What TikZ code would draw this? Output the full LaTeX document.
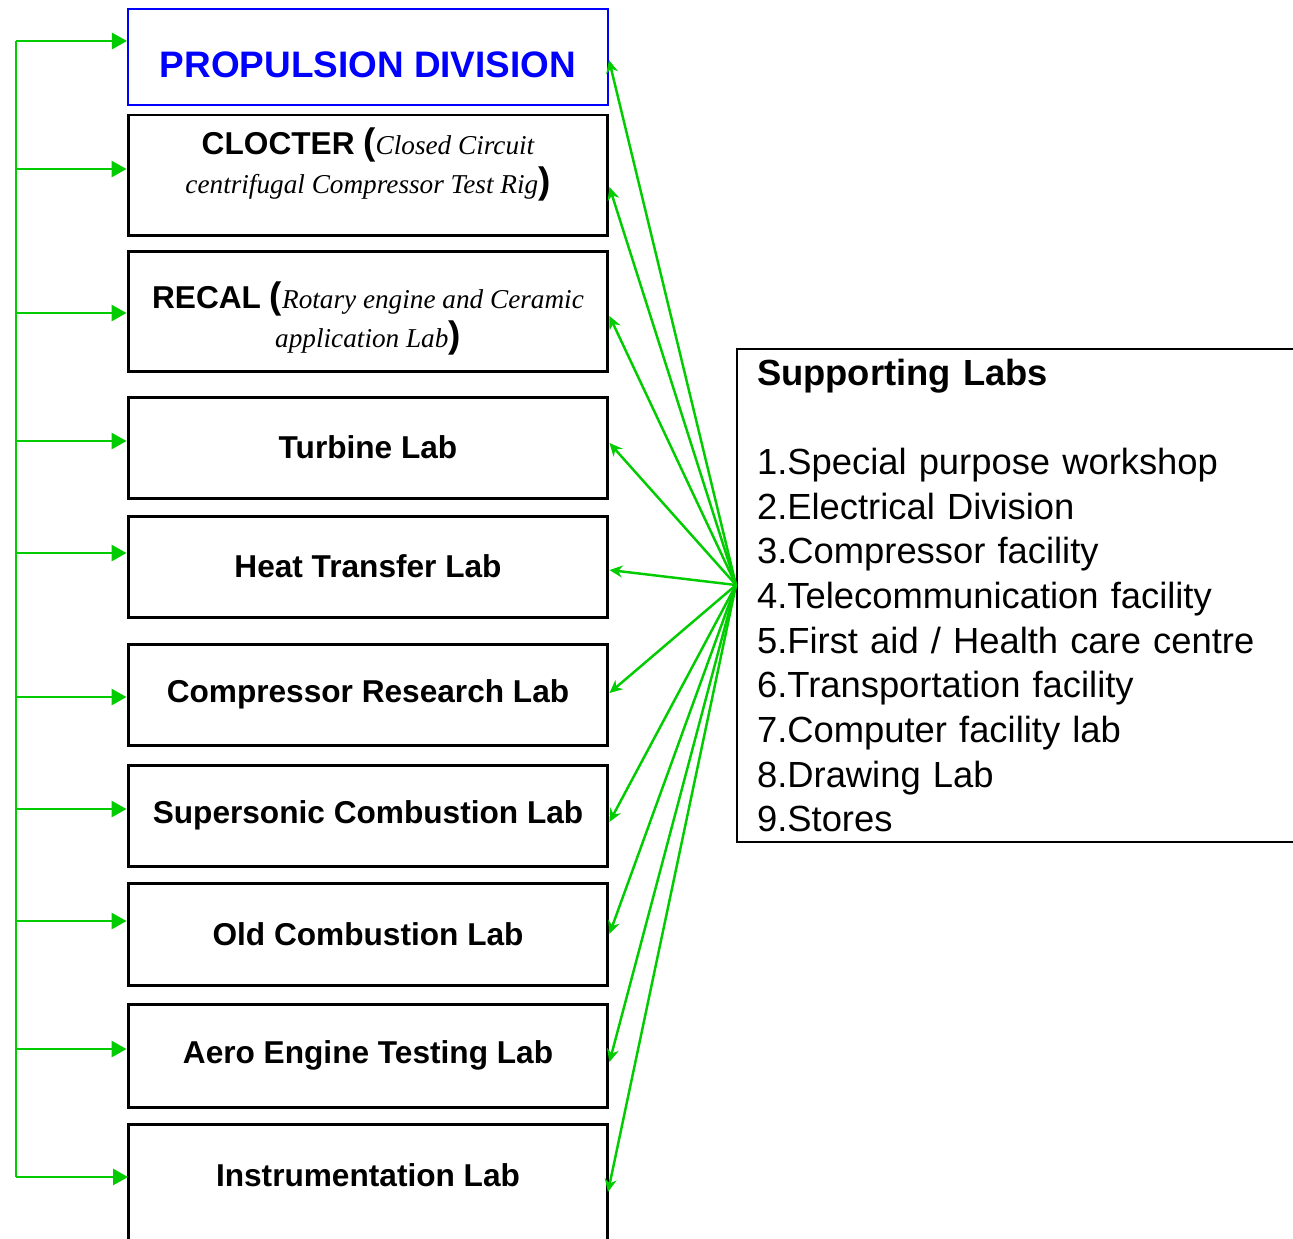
\documentclass[tikz,border=0pt]{standalone}
\usepackage{fontspec}
\setmainfont{Liberation Sans}
\newfontfamily\rigfont{Liberation Serif}
\usetikzlibrary{positioning,arrows.meta}
\definecolor{linkgreen}{RGB}{0,204,0}
\definecolor{headblue}{RGB}{0,0,255}
\tikzstyle{lab}=[draw,line width=1.7pt,minimum width=9.6cm,inner sep=0pt,align=center,
  font=\bfseries\fontsize{18}{22}\selectfont]
\tikzstyle{feed}=[-{Triangle[length=0.3cm,width=0.32cm]},linkgreen,line width=1.6pt]
\tikzstyle{link}=[-{Stealth[length=0.26cm,width=0.24cm]},linkgreen,line width=1.4pt]
\newcommand{\newLab}[5]{\node[lab,minimum height=#5*0.02cm,#3](#1) at (368,#4){#2};}
\newcommand{\newFeed}[2]{\coordinate (f#1) at (16,#2); \draw[feed] (f#1) -- (f#1 -| #1.west);}
\newcommand{\newLink}[2]{\draw[link] (hub) -- (#1.east |- 0,#2);}
\newcommand{\rig}[1]{{\rigfont\itshape\mdseries\fontsize{15.5}{22}\selectfont #1}}
\newcommand{\paren}[1]{{\fontsize{21}{22}\selectfont #1}}

\begin{document}
\begin{tikzpicture}[x=0.02cm,y=-0.02cm]
    \useasboundingbox (0,0) rectangle (1293,1238);
    % lab boxes
    \newLab{pd}{PROPULSION DIVISION}{draw=headblue,line width=1.2pt,text=headblue,
      text height=24pt,font=\bfseries\fontsize{21}{25}\selectfont}{57}{96}
    \newLab{clocter}{CLOCTER \paren{(}\rig{Closed Circuit}\\
      \rig{centrifugal Compressor Test Rig}\paren{)}}{text height=25pt}{175}{120}
    \newLab{recal}{RECAL \paren{(}\rig{Rotary engine and Ceramic}\\
      \rig{application Lab}\paren{)}}{text height=46pt}{311}{120}
    \newLab{turbine}{Turbine Lab}{}{447.5}{101}
    \newLab{heat}{Heat Transfer Lab}{}{566.5}{101}
    \newLab{compres}{Compressor Research Lab}{}{694.5}{101}
    \newLab{superson}{Supersonic Combustion Lab}{}{815.5}{101}
    \newLab{oldcomb}{Old Combustion Lab}{}{934}{102}
    \newLab{aero}{Aero Engine Testing Lab}{}{1055.5}{103}
    \newLab{instr}{Instrumentation Lab}{draw=none,outer sep=0pt}{1175}{102}
    \draw[line width=1.7pt] ([yshift=-1cm]instr.south west) |- (instr.north east)
      -- ([yshift=-1cm]instr.south east);
    % supporting labs
    \node[draw,line width=1.2pt,anchor=north west,minimum height=493*0.02cm,
      text width=12cm,inner xsep=0.4cm,align=left,
      font=\fontsize{20.7}{25.4}\selectfont](sup) at (736,348)
      {\textbf{Supporting Labs}\\[25.4pt]
       1.Special purpose workshop\\
       2.Electrical Division\\
       3.Compressor facility\\
       4.Telecommunication facility\\
       5.First aid / Health care centre\\
       6.Transportation facility\\
       7.Computer facility lab\\
       8.Drawing Lab\\
       9.Stores};
    \coordinate (hub) at (736,585);
    % feeds from the left
    \newFeed{pd}{41}
    \newFeed{clocter}{169}
    \newFeed{recal}{313}
    \newFeed{turbine}{441}
    \newFeed{heat}{553}
    \newFeed{compres}{697}
    \newFeed{superson}{809}
    \newFeed{oldcomb}{921}
    \newFeed{aero}{1049}
    \newFeed{instr}{1177}
    \draw[linkgreen,line width=1.6pt] (fpd) -- (finstr);
    % links from supporting labs
    \newLink{pd}{60}
    \newLink{clocter}{187}
    \newLink{recal}{316}
    \newLink{turbine}{443}
    \newLink{heat}{570}
    \newLink{compres}{693}
    \newLink{superson}{822}
    \newLink{oldcomb}{934}
    \newLink{aero}{1062}
    \newLink{instr}{1192}
\end{tikzpicture}
\end{document}
